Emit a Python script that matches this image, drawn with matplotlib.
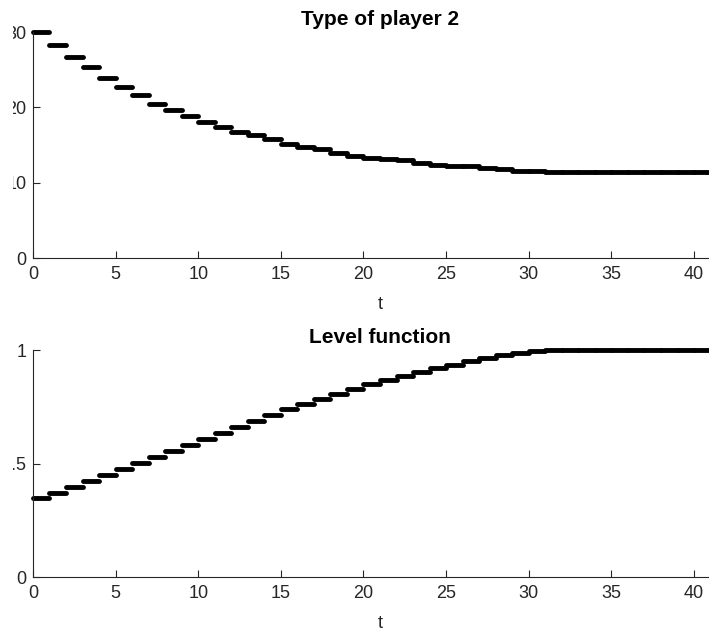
import numpy as np
import matplotlib
matplotlib.use("Agg")
import matplotlib.pyplot as plt
from matplotlib.patches import Rectangle

# Data (one value per unit step of t)
t = np.arange(0, 42)
player2_type = [30.0, 28.3, 26.65, 25.3, 23.9, 22.75, 21.6, 20.5, 19.6, 18.9,
                18.1, 17.36, 16.77, 16.33, 15.76, 15.18, 14.78, 14.43, 13.98, 13.6,
                13.3, 13.1, 13.0, 12.66, 12.35, 12.2, 12.15, 12.0, 11.77, 11.55,
                11.55, 11.38, 11.38, 11.38, 11.38, 11.38, 11.38, 11.38, 11.38, 11.38,
                11.38, 11.38]
level = [0.347, 0.371, 0.396, 0.421, 0.448, 0.474, 0.501, 0.527, 0.555, 0.580,
         0.608, 0.636, 0.662, 0.687, 0.712, 0.739, 0.762, 0.784, 0.806, 0.828,
         0.849, 0.868, 0.887, 0.904, 0.919, 0.936, 0.951, 0.967, 0.979, 0.988,
         0.996, 1.0, 1.0, 1.0, 1.0, 1.0, 1.0, 1.0, 1.0, 1.0,
         1.0, 1.0]

plt.rcParams['font.family'] = ['Liberation Sans', 'DejaVu Sans']
AX_COLOR = '#262626'
TICK_FS = 13
TITLE_FS = 15

fig = plt.figure(figsize=(7.09, 6.35), dpi=100)
ax1 = fig.add_axes([0.0465, 0.5937, 0.979, 0.3559])
ax2 = fig.add_axes([0.0465, 0.0913, 0.979, 0.3575])


def style(ax, title, ylim, yticks, yticklabels):
    ax.set_xlim(0, 42)
    ax.set_ylim(*ylim)
    ax.set_xticks([0, 5, 10, 15, 20, 25, 30, 35, 40])
    ax.set_yticks(yticks)
    ax.set_yticklabels(yticklabels)
    for side in ['top', 'right']:
        ax.spines[side].set_visible(False)
    for side in ['left', 'bottom']:
        ax.spines[side].set_color(AX_COLOR)
        ax.spines[side].set_linewidth(0.8)
    ax.tick_params(direction='in', length=5, width=0.8, colors=AX_COLOR,
                   labelsize=TICK_FS)
    ax.tick_params(axis='x', pad=6)
    ax.tick_params(axis='y', pad=4.5)
    ax.set_xlabel('t', fontsize=TICK_FS, color=AX_COLOR, labelpad=9)
    ax.set_title(title, fontsize=TITLE_FS, fontweight='bold', pad=5)


for ax, vals in [(ax1, player2_type), (ax2, level)]:
    lc = ax.hlines(vals, t, t + 1, colors='black', linewidth=3.5)
    lc.set_capstyle('round')
    lc.set_clip_on(False)

style(ax1, 'Type of player 2', (0, 30), [0, 10, 20, 30], ['0', '10', '20', '30'])
style(ax2, 'Level function', (0, 1), [0, 0.5, 1], ['0', '0.5', '1'])

# the reference is cropped on the left, cutting into the y tick labels
fig.add_artist(Rectangle((0, 0), 13 / 709, 1, transform=fig.transFigure,
                         facecolor='white', edgecolor='none', zorder=10))

fig.savefig('out.png', dpi=100)
